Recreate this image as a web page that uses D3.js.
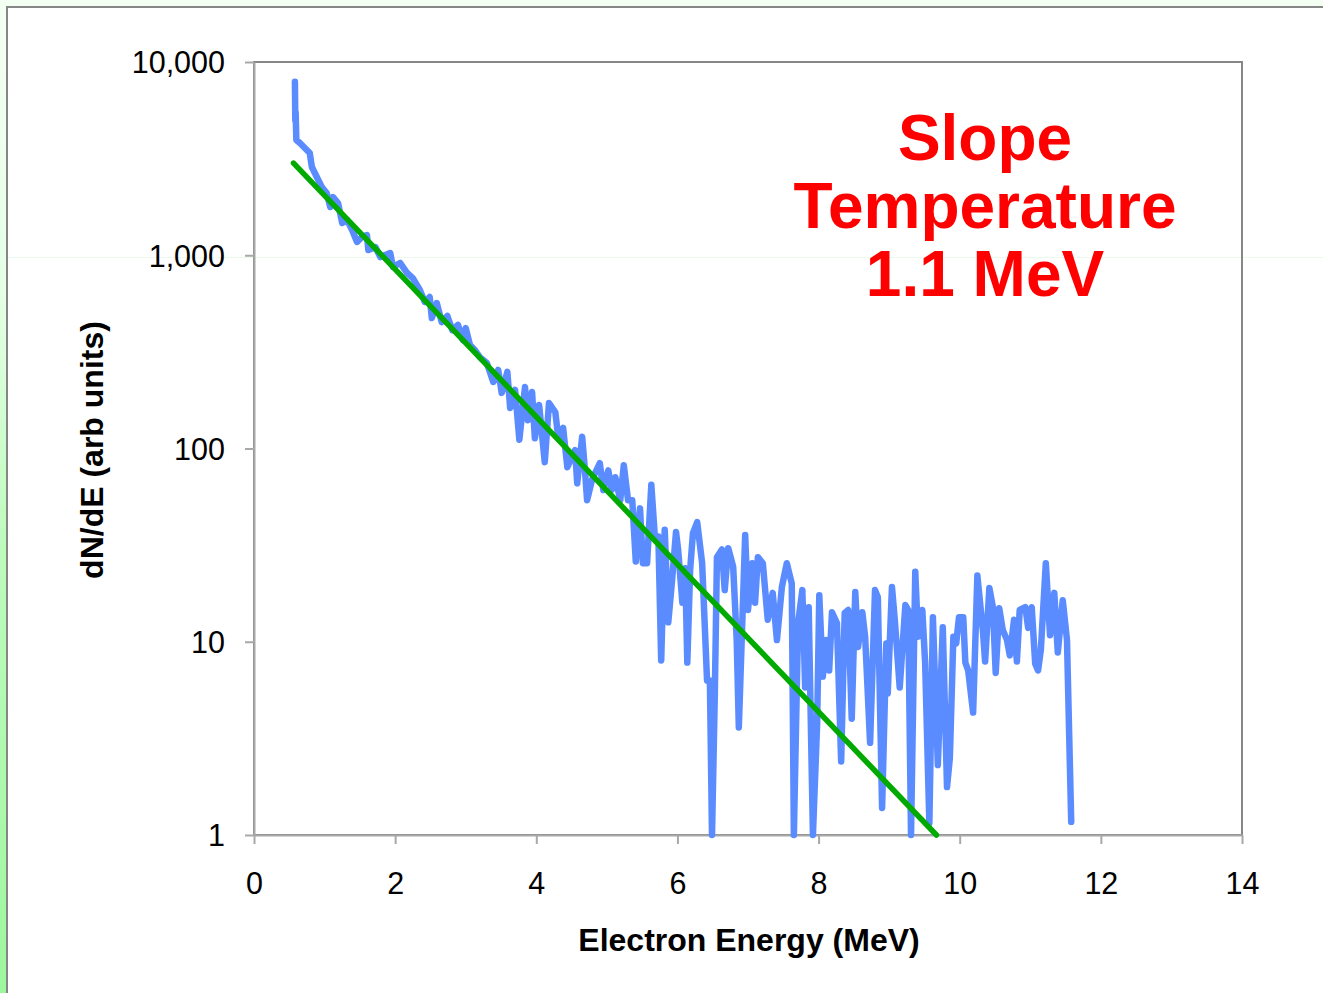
<!DOCTYPE html>
<html>
<head>
<meta charset="utf-8">
<script src="https://cdn.jsdelivr.net/npm/d3@7"></script>
<style>
  html, body { margin: 0; padding: 0; background: #f4fff4; }
  svg { display: block; }
  text { font-family: "Liberation Sans", Arial, sans-serif; }
</style>
</head>
<body>
<svg id="chart" width="1323" height="993"></svg>
<script>
// Measured electron spectrum: energy (MeV) and dN/dE (arbitrary units)
const energy = [
  0.58, 0.585, 0.59, 0.60, 0.65, 0.72, 0.79, 0.82, 0.89, 0.96, 1.03, 1.08, 1.12, 1.19, 1.25, 1.32,
  1.39, 1.46, 1.53, 1.60, 1.62, 1.72, 1.79, 1.93, 1.97, 2.07, 2.17, 2.25, 2.35, 2.42, 2.49, 2.52,
  2.59, 2.66, 2.74, 2.81, 2.89, 2.96, 3.00, 3.06, 3.13, 3.20, 3.30, 3.39, 3.46, 3.51, 3.59, 3.63,
  3.70, 3.76, 3.84, 3.88, 3.94, 3.98, 4.04, 4.12, 4.18, 4.27, 4.31, 4.38, 4.44, 4.55, 4.58, 4.65,
  4.69, 4.72, 4.79, 4.90, 4.95, 5.02, 5.07, 5.12, 5.19, 5.24, 5.30, 5.36, 5.41, 5.47, 5.51, 5.57,
  5.63, 5.68, 5.73, 5.77, 5.82, 5.87, 5.92, 5.98, 6.01, 6.07, 6.11, 6.14, 6.18, 6.22, 6.28, 6.35,
  6.42, 6.46, 6.49, 6.53, 6.56, 6.63, 6.67, 6.72, 6.79, 6.84, 6.87, 6.96, 7.00, 7.06, 7.10, 7.14,
  7.21, 7.28, 7.35, 7.41, 7.48, 7.55, 7.62, 7.65, 7.71, 7.77, 7.81, 7.86, 7.92, 7.98, 8.01, 8.06,
  8.11, 8.15, 8.19, 8.26, 8.32, 8.37, 8.42, 8.47, 8.52, 8.56, 8.62, 8.66, 8.73, 8.80, 8.84, 8.90,
  8.96, 8.98, 9.04, 9.08, 9.15, 9.23, 9.27, 9.31, 9.37, 9.41, 9.47, 9.51, 9.57, 9.62, 9.69, 9.76,
  9.82, 9.86, 9.91, 9.95, 9.99, 10.05, 10.08, 10.12, 10.19, 10.25, 10.33, 10.36, 10.42, 10.47, 10.51, 10.56,
  10.61, 10.67, 10.71, 10.77, 10.81, 10.85, 10.93, 10.97, 11.02, 11.07, 11.11, 11.15, 11.22, 11.28, 11.34, 11.39,
  11.46, 11.52, 11.58
];
const dnde = [
  7900, 5000, 5500, 3950, 3810, 3590, 3380, 2860, 2540, 2255, 2100, 1776, 2000, 1864, 1468, 1522,
  1351, 1171, 1243, 1273, 1064, 1103, 979, 1027, 869, 912, 809, 762, 661, 573, 608, 473,
  566, 451, 485, 410, 436, 364, 420, 343, 323, 297, 277, 221, 255, 194, 249, 162,
  201, 111, 208, 140, 196, 113, 168, 85, 172, 154, 115, 128, 80, 98, 66, 115,
  77, 54, 69, 84, 61, 77, 61, 71, 54, 82, 54, 54, 26, 49, 25.5, 25.5,
  65, 35, 35, 8.0, 38, 12.6, 20, 37, 30, 15.9, 24, 7.8, 23.5, 36.5, 41.6, 25.5,
  6.3, 6.3, 1, 5.4, 27.4, 30, 18.5, 30.5, 24.4, 10.2, 3.6, 35.7, 14.6, 25.5, 15.9, 27.4,
  25.5, 13, 17.9, 10.2, 19.2, 25.5, 20, 1, 12.5, 18.5, 5.8, 15.1, 1, 3.8, 17.4, 6.6,
  10.2, 7.1, 14.2, 12.5, 2.4, 14.1, 14.6, 4.0, 18.1, 9.4, 14.2, 10.6, 3.0, 18.5, 17, 1.38,
  9.8, 5.4, 19.2, 13, 5.8, 15.5, 14.6, 1, 23, 10.6, 14.6, 7.8, 1.15, 13.4, 2.3, 11.9,
  1.77, 2.5, 10.6, 9.8, 13.4, 13.4, 7.8, 7.1, 4.3, 22, 11.2, 7.9, 19, 15.1, 6.9, 14.9,
  11.5, 10.2, 8.5, 13, 7.9, 14.6, 15.1, 11.8, 15.1, 7.7, 7.1, 9.1, 25.5, 10.8, 17.9, 8.8,
  16.4, 10.2, 1.17
];

// Exponential fit (straight on the log axis): end points
const fitEnergy = [0.56, 9.67];
const fitDnde = [3000, 1];

// Axis ticks and titles
const xTicks = [0, 2, 4, 6, 8, 10, 12, 14];
const yTicks = [1, 10, 100, 1000, 10000];
const xTitle = "Electron Energy (MeV)";
const yTitle = "dN/dE (arb units)";
const noteLines = ["Slope", "Temperature"];
const tempUnit = "MeV";

const svg = d3.select("#chart");
const W = 1323, H = 993;
const plot = { left: 254, right: 1242, top: 62, bottom: 835 };

// Slide background: left edge strip fades to green towards the bottom
const defs = svg.append("defs");
const grad = defs.append("linearGradient").attr("id", "edgeGrad")
  .attr("x1", 0).attr("y1", 0).attr("x2", 0).attr("y2", 1);
grad.append("stop").attr("offset", "0%").attr("stop-color", "#f4fff4");
grad.append("stop").attr("offset", "30%").attr("stop-color", "#e4ffe4");
grad.append("stop").attr("offset", "55%").attr("stop-color", "#bdfbbd");
grad.append("stop").attr("offset", "100%").attr("stop-color", "#9ef79e");

svg.append("rect").attr("x", 0).attr("y", 0).attr("width", W).attr("height", H).attr("fill", "#f4fff4");
svg.append("rect").attr("x", 0).attr("y", 0).attr("width", 7).attr("height", H).attr("fill", "url(#edgeGrad)");

// Chart panel
svg.append("rect")
  .attr("x", 7).attr("y", 7).attr("width", W + 20).attr("height", H + 20)
  .attr("fill", "#ffffff").attr("stroke", "#868686").attr("stroke-width", 2);

// faint slide guide line
svg.append("line")
  .attr("x1", 8).attr("x2", W).attr("y1", 257.5).attr("y2", 257.5)
  .attr("stroke", "#ecfaec").attr("stroke-width", 1);

const x = d3.scaleLinear().domain([0, 14]).range([plot.left, plot.right]);
const y = d3.scaleLog().domain([1, 10000]).range([plot.bottom, plot.top]);

// Plot area frame
svg.append("rect")
  .attr("x", plot.left).attr("y", plot.top)
  .attr("width", plot.right - plot.left).attr("height", plot.bottom - plot.top)
  .attr("fill", "none").attr("stroke", "#878787").attr("stroke-width", 2);

const axisColor = "#a8a8a8";

const xAxis = svg.append("g")
  .attr("transform", `translate(0,${plot.bottom})`)
  .call(d3.axisBottom(x).tickValues(xTicks).tickSize(9).tickSizeOuter(0).tickPadding(28).tickFormat(d3.format("d")));
const yAxis = svg.append("g")
  .attr("transform", `translate(${plot.left},0)`)
  .call(d3.axisLeft(y).tickValues(yTicks).tickSize(9).tickSizeOuter(0).tickPadding(20).tickFormat(d3.format(",")));

[xAxis, yAxis].forEach(g => {
  g.select(".domain").attr("stroke", axisColor).attr("stroke-width", 2);
  g.selectAll(".tick line").attr("stroke", axisColor).attr("stroke-width", 2);
  g.selectAll(".tick text").attr("fill", "#000").style("font-size", "30.5px");
});
yAxis.selectAll(".tick text").attr("dy", "0.36em");

// Axis titles
svg.append("text")
  .attr("x", (plot.left + plot.right) / 2 + 1).attr("y", 951)
  .attr("text-anchor", "middle").style("font-size", "32px").style("font-weight", "bold")
  .text(xTitle);
svg.append("text")
  .attr("transform", `translate(103,450) rotate(-90)`)
  .attr("text-anchor", "middle").style("font-size", "32px").style("font-weight", "bold")
  .text(yTitle);

// Spectrum
const spectrum = energy.map((e, i) => [e, dnde[i]]);
svg.append("path")
  .datum(spectrum)
  .attr("fill", "none")
  .attr("stroke", "#5b8cff")
  .attr("stroke-width", 6.5)
  .attr("stroke-linejoin", "round")
  .attr("stroke-linecap", "round")
  .attr("d", d3.line().x(d => x(d[0])).y(d => y(d[1])));

// Fit line
const fit = fitEnergy.map((e, i) => [e, fitDnde[i]]);
svg.append("path")
  .datum(fit)
  .attr("fill", "none")
  .attr("stroke", "#00aa00")
  .attr("stroke-width", 5.5)
  .attr("stroke-linecap", "round")
  .attr("d", d3.line().x(d => x(d[0])).y(d => y(d[1])));

// Slope temperature from the fit: T = dE / ln(N0/N1)
const slopeT = (fitEnergy[1] - fitEnergy[0]) / Math.log(fitDnde[0] / fitDnde[1]);
const note = noteLines.concat([`${d3.format(".1f")(slopeT)} ${tempUnit}`]);
svg.append("g").selectAll("text")
  .data(note)
  .join("text")
  .attr("x", 985)
  .attr("y", (d, i) => 160 + i * 68)
  .attr("text-anchor", "middle")
  .attr("fill", "#ff0000")
  .style("font-size", "64px")
  .style("font-weight", "bold")
  .text(d => d);
</script>
</body>
</html>
